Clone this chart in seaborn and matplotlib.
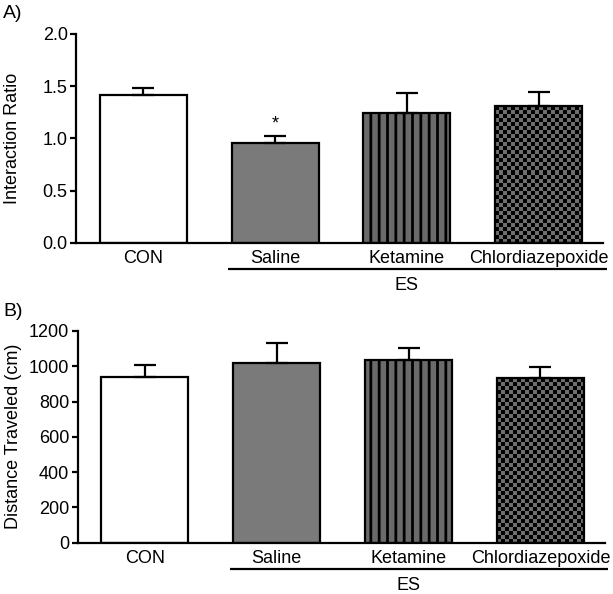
import numpy as np
import pandas as pd
import matplotlib
matplotlib.use("Agg")
import matplotlib.pyplot as plt
import seaborn as sns
from matplotlib.colors import ListedColormap
from matplotlib.transforms import blended_transform_factory

# ---------------- data ----------------
groups = ["CON", "Saline", "Ketamine", "Chlordiazepoxide"]
ratio_mean = [1.42, 0.955, 1.24, 1.31]
ratio_sem = [0.06, 0.065, 0.197, 0.133]
dist_mean = [938, 1018, 1034, 935]
dist_sem = [72, 112, 72, 61]
ratio_ticks = [0.0, 0.5, 1.0, 1.5, 2.0]
dist_ticks = [0, 200, 400, 600, 800, 1000, 1200]
sig_marks = ["", "*", "", ""]
bracket_label = "ES"
bracket_groups = ["Saline", "Ketamine", "Chlordiazepoxide"]

# ---------------- style ----------------
sns.set_theme(style="ticks")
plt.rcParams["font.family"] = ["Liberation Sans", "DejaVu Sans"]
plt.rcParams["hatch.linewidth"] = 2.0
plt.rcParams["hatch.color"] = "black"

fills = ["white", "#7a7a7a", "#6a6a6a", "#6a6a6a"]
LW = 1.6
FS = 13

fig = plt.figure(figsize=(6.13, 5.94), dpi=100)
axA = fig.add_axes([76 / 613, 1 - 242.7 / 594, (603.3 - 76) / 613, (242.7 - 34) / 594])
axB = fig.add_axes([77.5 / 613, 1 - 542.6 / 594, (605 - 77.5) / 613, (542.6 - 331) / 594])


def checker_fill(ax, patch, cell_px=4.0, dark="black", light="#6e6e6e"):
    bb = patch.get_window_extent()
    ncol = max(1, int(round(bb.width / cell_px)))
    nrow = max(1, int(round(bb.height / cell_px)))
    arr = (np.add.outer(np.arange(nrow), np.arange(ncol)) % 2).astype(float)
    x0, y0 = patch.get_x(), patch.get_y()
    w, h = patch.get_width(), patch.get_height()
    im = ax.imshow(arr, cmap=ListedColormap([light, dark]), extent=(x0, x0 + w, y0, y0 + h),
                   aspect="auto", interpolation="nearest", origin="lower", zorder=patch.get_zorder() + 0.1)
    im.set_clip_path(patch)
    patch.set_facecolor("none")
    patch.set_zorder(patch.get_zorder() + 0.2)


def panel(ax, means, sems, ticks, ylabel, fmt, ylim):
    df = pd.DataFrame({"group": groups, "value": means})
    sns.barplot(data=df, x="group", y="value", hue="group", order=groups, hue_order=groups,
                palette=fills, saturation=1, width=0.66, edgecolor="black", linewidth=LW,
                errorbar=None, legend=False, ax=ax)
    xlim = (-0.51, 3.49)
    ax.set_xlim(*xlim)
    ax.set_ylim(*ylim)
    pos = np.arange(len(groups))
    ax.errorbar(pos, means, yerr=[np.zeros(len(groups)), sems], fmt="none", ecolor="black",
                elinewidth=LW, capsize=8, capthick=LW, zorder=5)
    bars = sorted(ax.patches, key=lambda p: p.get_x())
    bars[2].set_hatch("||")
    checker_fill(ax, bars[3])
    ax.set_xlim(*xlim)
    ax.set_ylim(*ylim)

    ax.set_yticks(ticks)
    ax.set_yticklabels([fmt.format(t) for t in ticks])
    ax.tick_params(axis="y", direction="out", length=4.5, width=LW, pad=1.5, labelsize=FS, colors="black")
    ax.tick_params(axis="x", length=0, pad=5, labelsize=FS, colors="black")
    ax.set_xlabel("")
    ax.set_ylabel(ylabel, fontsize=FS, color="black")
    ax.yaxis.set_label_coords(-0.105, 0.5)
    for s in ["top", "right"]:
        ax.spines[s].set_visible(False)
    for s in ["left", "bottom"]:
        ax.spines[s].set_linewidth(LW)
        ax.spines[s].set_color("black")

    trans = blended_transform_factory(ax.transData, ax.transAxes)
    i0 = groups.index(bracket_groups[0])
    i1 = groups.index(bracket_groups[-1])
    ax.plot([i0 - 0.355, i1 + 0.516], [-0.124, -0.124], transform=trans, color="black",
            lw=LW, clip_on=False, solid_capstyle="butt")
    ax.text((i0 + i1) / 2, -0.203, bracket_label, transform=trans, ha="center", va="center",
            fontsize=FS, color="black")


panel(axA, ratio_mean, ratio_sem, ratio_ticks, "Interaction Ratio", "{:.1f}", (0, 2.0))
panel(axB, dist_mean, dist_sem, dist_ticks, "Distance Traveled (cm)", "{:.0f}", (0, 1200))

for i, m in enumerate(sig_marks):
    if m:
        axA.text(i, ratio_mean[i] + ratio_sem[i] + 0.12, m, ha="center", va="center", fontsize=FS,
                 color="black")

fig.text(3 / 613, 1 - 13 / 594, "A)", ha="left", va="center", fontsize=14, color="black")
fig.text(3 / 613, 1 - 311 / 594, "B)", ha="left", va="center", fontsize=14, color="black")

fig.savefig("out.png", dpi=100, facecolor="white")
